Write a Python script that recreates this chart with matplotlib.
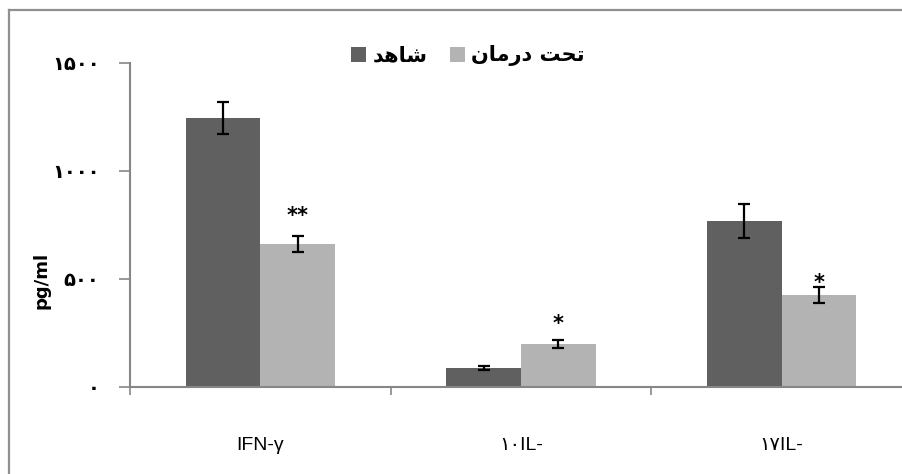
import matplotlib.pyplot as plt
import numpy as np
from matplotlib.lines import Line2D

# cytokine levels (pg/ml), mean and error for each group
categories = ["IFN-γ", "۱۰IL-", "۱۷IL-"]
control_mean = [1245, 88, 769]
control_err = [75, 8, 80]
treated_mean = [662, 199, 426]
treated_err = [37, 20, 37]
stars = ["**", "*", "*"]
star_y = [765, 265, 455]

y_ticks = [0, 500, 1000, 1500]
y_tick_labels = ["۰", "۵۰۰", "۱۰۰۰", "۱۵۰۰"]

label_control = "شاهد"
label_treated = "تحت درمان"

DARK = "#606060"
LIGHT = "#b3b3b3"
AXIS = "#868686"

# presentation forms: isolated, final, initial, medial
FORMS = {
    "ا": ("\ufe8d", "\ufe8e", None, None),
    "د": ("\ufea9", "\ufeaa", None, None),
    "ر": ("\ufead", "\ufeae", None, None),
    "ت": ("\ufe95", "\ufe96", "\ufe97", "\ufe98"),
    "ح": ("\ufea1", "\ufea2", "\ufea3", "\ufea4"),
    "ش": ("\ufeb5", "\ufeb6", "\ufeb7", "\ufeb8"),
    "م": ("\ufee1", "\ufee2", "\ufee3", "\ufee4"),
    "ن": ("\ufee5", "\ufee6", "\ufee7", "\ufee8"),
    "ه": ("\ufee9", "\ufeea", "\ufeeb", "\ufeec"),
}


def shape(text):
    """Joins Persian letters and puts them in visual (left-to-right) order."""
    out = []
    for i, ch in enumerate(text):
        if ch not in FORMS:
            out.append(ch)
            continue
        prev = text[i - 1] if i > 0 else ""
        nxt = text[i + 1] if i + 1 < len(text) else ""
        joins_prev = prev in FORMS and FORMS[prev][2] is not None
        joins_next = nxt in FORMS and FORMS[ch][2] is not None
        iso, fin, ini, med = FORMS[ch]
        if joins_prev and joins_next:
            out.append(med)
        elif joins_prev:
            out.append(fin)
        elif joins_next:
            out.append(ini)
        else:
            out.append(iso)
    return "".join(reversed(out))


plt.rcParams["font.family"] = ["DejaVu Sans"]

W, H = 902, 474
fig = plt.figure(figsize=(W / 100, H / 100), dpi=100)
ax = fig.add_axes([130 / W, 87 / H, 782 / W, 324 / H])

x = np.arange(len(categories))
width = 0.287
err_kw = dict(ecolor="black", capsize=4.5, elinewidth=1.6, capthick=1.6)

ax.bar(x - width / 2, control_mean, width, color=DARK,
       yerr=control_err, error_kw=err_kw, label=shape(label_control))
ax.bar(x + width / 2, treated_mean, width, color=LIGHT,
       yerr=treated_err, error_kw=err_kw, label=shape(label_treated))

for xi, s, sy in zip(x, stars, star_y):
    ax.text(xi + width / 2, sy, s, ha="center", va="baseline",
            fontsize=15, fontweight="bold")

ax.set_xlim(-0.5, len(categories) - 0.5)
ax.set_ylim(0, 1500)

ax.set_yticks(y_ticks)
ax.set_yticklabels(y_tick_labels, fontsize=14, fontweight="bold")
ax.tick_params(axis="y", length=8, width=1.2, color=AXIS, pad=14)

# category boundaries carry the tick marks, centres carry the labels
ax.set_xticks(np.arange(len(categories) + 1) - 0.5)
ax.set_xticklabels([])
ax.set_xticks(x, minor=True)
ax.set_xticklabels(categories, minor=True, fontsize=14,
                   family=["Liberation Sans", "DejaVu Sans"])
ax.tick_params(axis="x", which="major", length=6, width=1.2, color=AXIS)
ax.tick_params(axis="x", which="minor", length=0, pad=36)

for side in ("top", "right"):
    ax.spines[side].set_visible(False)
for side in ("left", "bottom"):
    ax.spines[side].set_color(AXIS)
    ax.spines[side].set_linewidth(1.5)

fig.text(42 / W, 1 - 280 / H, "pg/ml", rotation=90, ha="center",
         va="center", fontsize=13, fontweight="bold")

fig.legend(loc="center", bbox_to_anchor=(468 / W, 1 - 56 / H), ncol=2,
           frameon=False, prop=dict(size=15, weight="bold"),
           handlelength=0.7, handleheight=0.7, handletextpad=0.3,
           columnspacing=1.1)

# outer chart frame
frame_kw = dict(color="#909090", linewidth=1.6, transform=fig.transFigure)
fig.add_artist(Line2D([8.5 / W, 8.5 / W], [0, 1 - 9.5 / H], **frame_kw))
fig.add_artist(Line2D([8.5 / W, 1], [1 - 9.5 / H, 1 - 9.5 / H], **frame_kw))

fig.savefig("out.png", dpi=100)
